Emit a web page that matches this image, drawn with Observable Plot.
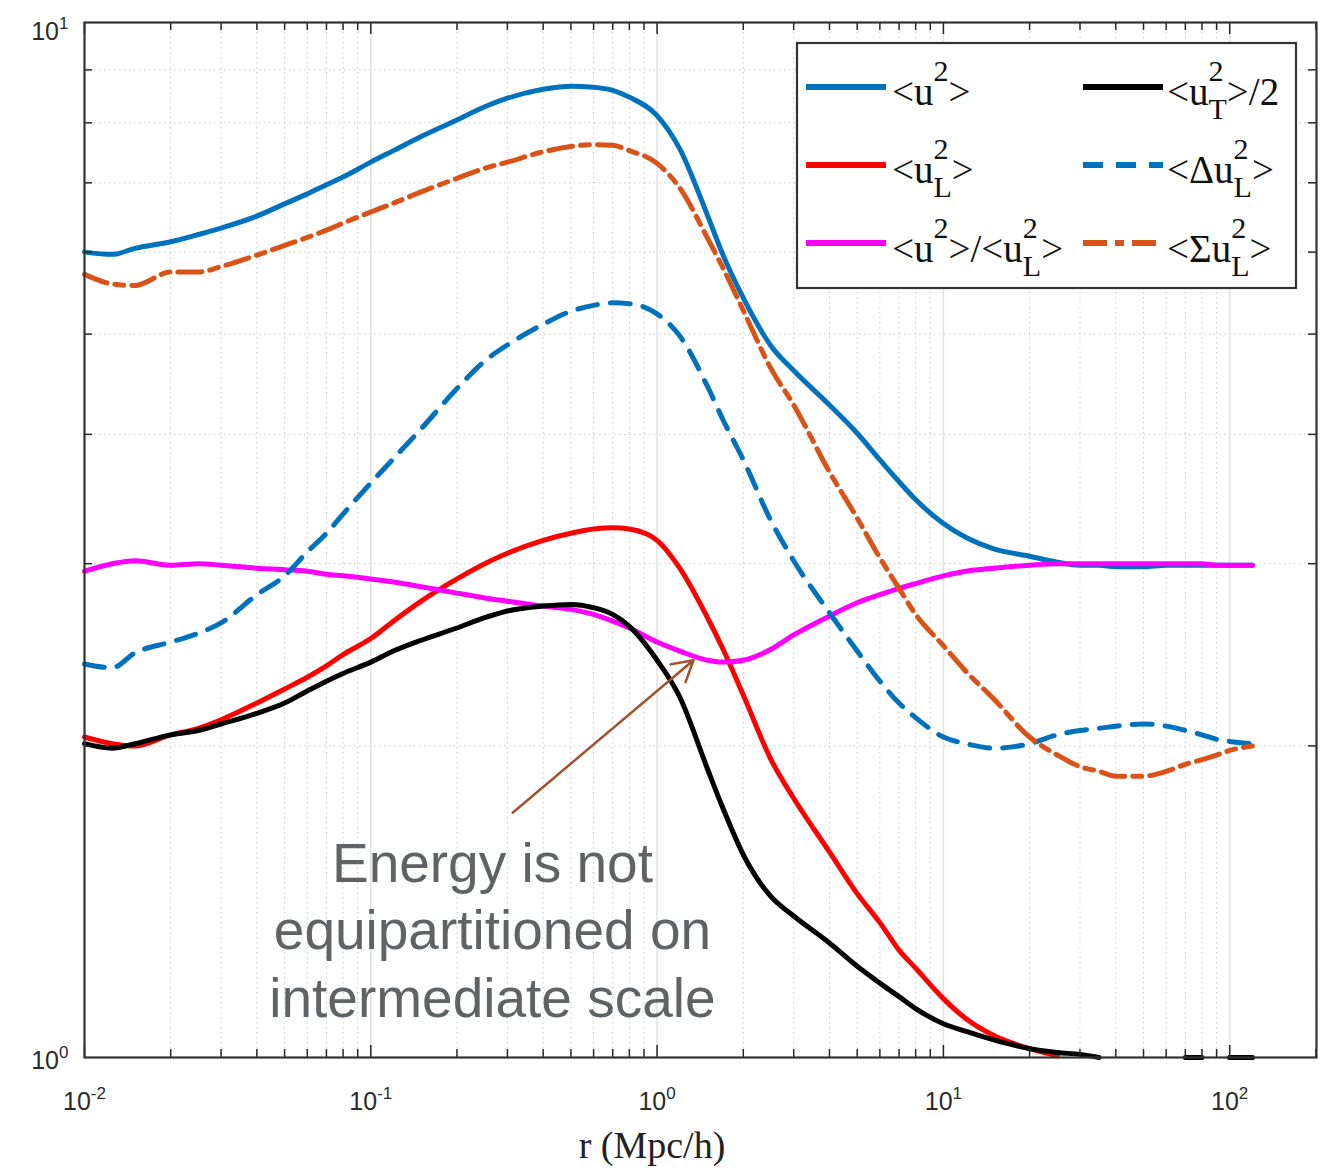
<!DOCTYPE html>
<html><head><meta charset="utf-8">
<script src="https://cdn.jsdelivr.net/npm/d3@7"></script>
<script src="https://cdn.jsdelivr.net/npm/@observablehq/plot@0.6"></script>
<style>
html,body{margin:0;padding:0;background:#fff;}
#chart{width:1328px;height:1169px;}
</style></head><body><div id="chart"></div>
<script>
// separation r (Mpc/h), shared by all series
const r = [0.01, 0.0125, 0.015, 0.02, 0.025, 0.03, 0.04, 0.05, 0.06, 0.07, 0.08, 0.1, 0.12, 0.15, 0.2, 0.25, 0.3, 0.4, 0.5, 0.6, 0.7, 0.8, 1.0, 1.2, 1.5, 1.7, 2, 2.5, 3, 4, 5, 6, 7, 8, 10, 12, 15, 20, 25, 30, 35, 40, 50, 60, 70, 80, 90, 100, 120];
// <u^2>
const u2 = [6.00, 5.97, 6.05, 6.14, 6.24, 6.33, 6.50, 6.68, 6.83, 6.97, 7.09, 7.33, 7.52, 7.76, 8.05, 8.29, 8.45, 8.62, 8.68, 8.66, 8.60, 8.47, 8.13, 7.55, 6.51, 5.96, 5.42, 4.87, 4.61, 4.27, 4.01, 3.78, 3.60, 3.46, 3.28, 3.18, 3.10, 3.05, 3.01, 2.99, 2.99, 2.98, 2.98, 2.99, 2.99, 2.99, 2.99, 2.99, 2.99];
// <u_L^2>
const uL2 = [2.04, 2.01, 2.00, 2.05, 2.08, 2.12, 2.20, 2.27, 2.33, 2.39, 2.45, 2.54, 2.64, 2.76, 2.90, 3.00, 3.07, 3.16, 3.21, 3.24, 3.25, 3.24, 3.16, 2.97, 2.66, 2.48, 2.24, 1.94, 1.78, 1.58, 1.44, 1.35, 1.27, 1.22, 1.14, 1.09, 1.05, 1.02, 1.004, null, null, null, null, null, null, null, null, 1.0, 1.0];
// <u^2>/<u_L^2>
const ratio = [2.95, 3.00, 3.02, 2.99, 3.00, 2.99, 2.97, 2.96, 2.95, 2.93, 2.92, 2.90, 2.88, 2.85, 2.81, 2.78, 2.76, 2.73, 2.71, 2.68, 2.64, 2.60, 2.52, 2.47, 2.42, 2.41, 2.42, 2.48, 2.56, 2.67, 2.75, 2.80, 2.84, 2.87, 2.92, 2.95, 2.97, 2.99, 3.00, 3.00, 3.00, 3.00, 3.00, 3.00, 3.00, 3.00, 2.99, 2.99, 2.99];
// <u_T^2>/2
const uT2half = [2.01, 1.99, 2.01, 2.05, 2.07, 2.10, 2.15, 2.20, 2.26, 2.31, 2.35, 2.41, 2.47, 2.53, 2.60, 2.66, 2.70, 2.73, 2.74, 2.72, 2.68, 2.61, 2.42, 2.23, 1.90, 1.74, 1.57, 1.43, 1.37, 1.29, 1.225, 1.18, 1.145, 1.115, 1.078, 1.06, 1.04, 1.02, 1.011, 1.007, 1.0, null, null, null, 1.0, 1.0, null, 1.0, 1.0];
// <Delta u_L^2>
const dUL2 = [2.40, 2.38, 2.46, 2.52, 2.57, 2.63, 2.80, 2.92, 3.08, 3.21, 3.35, 3.59, 3.79, 4.05, 4.43, 4.71, 4.88, 5.11, 5.26, 5.33, 5.36, 5.35, 5.23, 4.98, 4.45, 4.13, 3.78, 3.30, 3.02, 2.69, 2.47, 2.31, 2.20, 2.13, 2.04, 2.01, 1.99, 2.01, 2.05, 2.07, 2.08, 2.09, 2.10, 2.09, 2.07, 2.05, 2.03, 2.02, 2.01];
// <Sigma u_L^2>
const sUL2 = [5.71, 5.59, 5.57, 5.74, 5.74, 5.81, 5.96, 6.09, 6.20, 6.30, 6.40, 6.56, 6.69, 6.86, 7.07, 7.23, 7.33, 7.50, 7.59, 7.62, 7.61, 7.52, 7.31, 6.92, 6.19, 5.79, 5.27, 4.63, 4.27, 3.68, 3.32, 3.04, 2.84, 2.68, 2.50, 2.36, 2.22, 2.04, 1.96, 1.91, 1.89, 1.87, 1.87, 1.89, 1.92, 1.94, 1.96, 1.98, 2.00];

// ticks
const xMajor = [0.01, 0.1, 1, 10, 100];
const minorMult = [2, 3, 4, 5, 6, 7, 8, 9];
const xMinor = xMajor.flatMap(d => minorMult.map(m => d * m)).filter(v => v <= 201);
const yMajor = [1, 10];
const yMinor = [2, 3, 4, 5, 6, 7, 8, 9];
const xLabel = "r (Mpc/h)";

// annotation
const noteText = "Energy is not\nequipartitioned on\nintermediate scale";
const notePos = {r: 0.266, v: 1.334};
const arrowFrom = {r: 0.313, v: 1.724};
const arrowTo = {r: 1.34, v: 2.42};

const C = {blue: "#0072BD", red: "#FF0000", magenta: "#FF00FF", black: "#000000", orange: "#D95319"};
const dashBlue = "20,13";
const dashOrange = "24,8,9,8";

const rows = r.map((x, i) => ({r: x, u2: u2[i], uL2: uL2[i], ratio: ratio[i], uT: uT2half[i], dU: dUL2[i], sU: sUL2[i]}));

const W = 1328, H = 1169, mL = 84, mR = 12, mT = 22, mB = 112;
const fw = W - mL - mR, fh = H - mT - mB;
const lw = 5;

const grid = {stroke: "#c9c9c9", strokeDasharray: "1.5,3.5", strokeWidth: 1};
const expFmt = d => "10^" + Math.round(Math.log10(d));

const chart = Plot.plot({
  width: W, height: H,
  marginLeft: mL, marginRight: mR, marginTop: mT, marginBottom: mB,
  style: {fontFamily: "'Liberation Sans', Arial, sans-serif", fontSize: "25px", color: "#2b2b2b", background: "#fff"},
  x: {type: "log", domain: [0.01, 201], label: null},
  y: {type: "log", domain: [1, 10], label: null},
  marks: [
    Plot.ruleX(xMinor, grid),
    Plot.ruleY(yMinor, grid),
    Plot.ruleX(xMajor.slice(1), {stroke: "#e2e2e2", strokeWidth: 1.6}),
    Plot.line(rows, {x: "r", y: "u2", stroke: C.blue, strokeWidth: lw, curve: "monotone-x"}),
    Plot.line(rows, {x: "r", y: "uL2", stroke: C.red, strokeWidth: lw, curve: "monotone-x"}),
    Plot.line(rows, {x: "r", y: "ratio", stroke: C.magenta, strokeWidth: lw, curve: "monotone-x"}),
    Plot.line(rows, {x: "r", y: "uT", stroke: C.black, strokeWidth: lw, curve: "monotone-x"}),
    Plot.line(rows, {x: "r", y: "dU", stroke: C.blue, strokeWidth: lw, strokeDasharray: dashBlue, curve: "monotone-x"}),
    Plot.line(rows, {x: "r", y: "sU", stroke: C.orange, strokeWidth: lw, strokeDasharray: dashOrange, curve: "monotone-x"}),
    Plot.arrow([0], {x1: () => arrowFrom.r, y1: () => arrowFrom.v, x2: () => arrowTo.r, y2: () => arrowTo.v, stroke: "#A0522D", strokeWidth: 2.5, headLength: 14, bend: 0}),
    Plot.text([noteText], {x: () => notePos.r, y: () => notePos.v, text: d => d, fontSize: 55, lineHeight: 1.22, fill: "#606366", textAnchor: "middle", lineAnchor: "middle", fontFamily: "'Liberation Sans', Arial, sans-serif"}),
    // inward ticks
    Plot.tickX(xMajor, {x: d => d, insetTop: fh - 12, stroke: "#262626", strokeWidth: 1.5}),
    Plot.tickX(xMajor, {x: d => d, insetBottom: fh - 12, stroke: "#262626", strokeWidth: 1.5}),
    Plot.tickX(xMinor, {x: d => d, insetTop: fh - 8, stroke: "#262626", strokeWidth: 1.5}),
    Plot.tickX(xMinor, {x: d => d, insetBottom: fh - 8, stroke: "#262626", strokeWidth: 1.5}),
    Plot.tickY(yMinor, {y: d => d, insetRight: fw - 8, stroke: "#262626", strokeWidth: 1.5}),
    Plot.tickY(yMinor, {y: d => d, insetLeft: fw - 8, stroke: "#262626", strokeWidth: 1.5}),
    Plot.frame({stroke: "#333", strokeWidth: 2.2}),
    Plot.axisX(xMajor, {tickSize: 0, tickPadding: 35, tickFormat: expFmt, fontSize: 25, label: null}),
    Plot.axisY([yMajor[1]], {tickSize: 0, tickPadding: 16, tickFormat: expFmt, fontSize: 25, dy: 9, label: null}),
    Plot.axisY([yMajor[0]], {tickSize: 0, tickPadding: 16, tickFormat: expFmt, fontSize: 25, dy: 3, label: null})
  ]
});
document.getElementById("chart").appendChild(chart);

const svg = d3.select(chart);
// superscript exponents on tick labels
svg.selectAll("text").each(function() {
  const t = this.textContent;
  const m = /^10\^(-?\d+)$/.exec(t);
  if (!m) return;
  const s = d3.select(this);
  s.text("");
  s.append("tspan").text("10");
  s.append("tspan").attr("dy", -11).attr("font-size", 17).text(m[1]);
});

// x label
svg.append("text").attr("x", 652).attr("y", 1158).attr("text-anchor", "middle")
  .attr("font-family", "'Liberation Serif', 'Times New Roman', serif").attr("font-size", 38).attr("fill", "#222").text(xLabel);

// legend
const legendItems = [
  {col: 0, row: 0, color: C.blue, dash: null, parts: ["<u", {sup: "2"}, ">"]},
  {col: 1, row: 0, color: C.black, dash: null, parts: ["<u", {sup: "2", sub: "T"}, ">/2"]},
  {col: 0, row: 1, color: C.red, dash: null, parts: ["<u", {sup: "2", sub: "L"}, ">"]},
  {col: 1, row: 1, color: C.blue, dash: dashBlue, parts: ["<\u0394u", {sup: "2", sub: "L"}, ">"]},
  {col: 0, row: 2, color: C.magenta, dash: null, parts: ["<u", {sup: "2"}, ">/<u", {sup: "2", sub: "L"}, ">"]},
  {col: 1, row: 2, color: C.orange, dash: dashOrange, parts: ["<\u03A3u", {sup: "2", sub: "L"}, ">"]}
];
const lg = svg.append("g").attr("text-anchor", "start");
lg.append("rect").attr("x", 797).attr("y", 43).attr("width", 499).attr("height", 245)
  .attr("fill", "#fff").attr("stroke", "#333").attr("stroke-width", 2.2);
const colLineX = [806, 1083], colTextX = [892, 1167];
const rowLineY = [87, 165, 243], rowBase = [105, 183, 262];
const supSize = 30, supUp = 24, subDown = 14;
legendItems.forEach(it => {
  const ln = lg.append("line").attr("x1", colLineX[it.col]).attr("x2", colLineX[it.col] + 80)
    .attr("y1", rowLineY[it.row]).attr("y2", rowLineY[it.row])
    .attr("stroke", it.color).attr("stroke-width", 6);
  if (it.dash) ln.attr("stroke-dasharray", it.dash);
  const t = lg.append("text").attr("x", colTextX[it.col]).attr("y", rowBase[it.row]).attr("text-anchor", "start")
    .attr("font-family", "'Liberation Serif', 'Times New Roman', serif").attr("font-size", 39).attr("fill", "#111");
  let shift = 0;
  it.parts.forEach(p => {
    if (typeof p === "string") {
      t.append("tspan").attr("dy", -shift).text(p); shift = 0;
    } else {
      const sp = t.append("tspan").attr("dy", -supUp - shift).attr("font-size", supSize).text(p.sup);
      shift = -supUp;
      if (p.sub) {
        const w = sp.node().getComputedTextLength();
        t.append("tspan").attr("dx", -w).attr("dy", subDown + supUp).attr("font-size", supSize).text(p.sub);
        shift = subDown;
      }
    }
  });
});
</script></body></html>
